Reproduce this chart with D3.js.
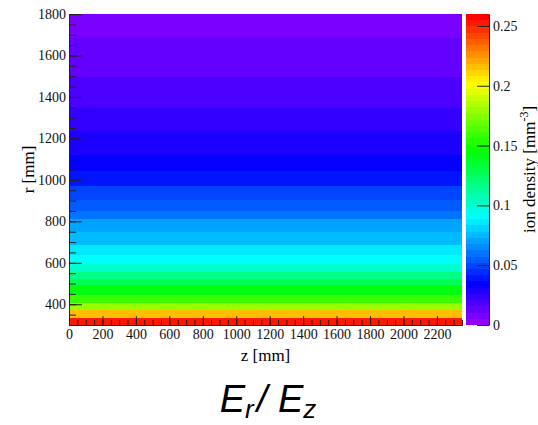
<!DOCTYPE html>
<html>
<head>
<meta charset="utf-8">
<script src="https://cdn.jsdelivr.net/npm/d3@7/dist/d3.min.js"></script>
<style>
	body { margin: 0; background: #fff; }
	svg { display: block; }
	.axis text { font-family: "Liberation Serif", serif; font-size: 14px; fill: #111; }
	.axis line, .axis path { stroke: #222; }
</style>
</head>
<body>
<svg id="chart" width="538" height="425"></svg>
<script>

// r bin edges [mm] of the density bands, bottom to top
var rEdges = [300, 334, 372, 406, 445, 493, 522, 556, 594, 638, 686, 749,
	811, 850, 903, 970, 1043, 1120, 1236, 1347, 1496, 1684, 1800]

// ion density [mm^-3] in each band (same along z)
var density = [0.252, 0.216, 0.179, 0.159, 0.143, 0.127, 0.117, 0.101, 0.091,
	0.086, 0.075, 0.070, 0.060, 0.055, 0.049, 0.039, 0.034, 0.029, 0.023,
	0.018, 0.013, 0.008]

var zRange = [0, 2350]
var rRange = [300, 1800]
var densityRange = [0, 0.26]

var zTicks = [0, 200, 400, 600, 800, 1000, 1200, 1400, 1600, 1800, 2000, 2200]
var rTicks = [400, 600, 800, 1000, 1200, 1400, 1600, 1800]
var densityTicks = [0, 0.05, 0.1, 0.15, 0.2, 0.25]

var nLevels = 50

var svg = d3.select('#chart')

var plot = { left: 69, right: 462, top: 14, bottom: 325 }
var bar = { left: 466, right: 489 }

var zScale = d3.scaleLinear().domain(zRange).range([plot.left, plot.right])
var rScale = d3.scaleLinear().domain(rRange).range([plot.bottom, plot.top])
var dScale = d3.scaleLinear().domain(densityRange).range([plot.bottom, plot.top])

// ROOT "pretty" palette: violet -> red in 50 steps
var palette = d3.range(nLevels).map(function(i) {
	return d3.hsl(280 - (i + 1) * 280 / nLevels, 1, 0.5).toString()
})
var step = (densityRange[1] - densityRange[0]) / nLevels
var colorOf = function(v) {
	var k = Math.floor((v - densityRange[0]) / step)
	return palette[Math.max(0, Math.min(nLevels - 1, k))]
}

// density bands
svg.append('g')
	.selectAll('rect')
	.data(density)
	.join('rect')
	.attr('x', zScale(zRange[0]))
	.attr('width', zScale(zRange[1]) - zScale(zRange[0]))
	.attr('y', (d, i) => rScale(rEdges[i + 1]))
	.attr('height', (d, i) => rScale(rEdges[i]) - rScale(rEdges[i + 1]))
	.attr('fill', (d) => colorOf(d))
	.attr('shape-rendering', 'crispEdges')

// colour bar
svg.append('g')
	.selectAll('rect')
	.data(palette)
	.join('rect')
	.attr('x', bar.left)
	.attr('width', bar.right - bar.left)
	.attr('y', (d, i) => dScale((i + 1) * step))
	.attr('height', (d, i) => dScale(i * step) - dScale((i + 1) * step))
	.attr('fill', (d) => d)
	.attr('shape-rendering', 'crispEdges')

// y axis, minor then major
svg.append('g')
	.attr('class', 'axis')
	.attr('transform', 'translate(' + plot.left + ',0)')
	.call(d3.axisLeft(rScale).tickValues(d3.range(300, 1801, 50)).tickSizeInner(-7).tickSizeOuter(0).tickFormat(''))
svg.append('g')
	.attr('class', 'axis')
	.attr('transform', 'translate(' + plot.left + ',0)')
	.call(d3.axisLeft(rScale).tickValues(rTicks).tickSizeInner(-13).tickSizeOuter(0).tickPadding(3).tickFormat(d3.format('d')))

// x axis
svg.append('g')
	.attr('class', 'axis')
	.attr('transform', 'translate(0,' + plot.bottom + ')')
	.call(d3.axisBottom(zScale).tickValues(d3.range(0, 2351, 50)).tickSizeInner(-5).tickSizeOuter(0).tickFormat(''))
svg.append('g')
	.attr('class', 'axis')
	.attr('transform', 'translate(0,' + plot.bottom + ')')
	.call(d3.axisBottom(zScale).tickValues(zTicks).tickSizeInner(-9).tickSizeOuter(0).tickPadding(4).tickFormat(d3.format('d')))

// colour bar axis
svg.append('g')
	.attr('class', 'axis')
	.attr('transform', 'translate(' + bar.right + ',0)')
	.call(d3.axisRight(dScale).tickValues(densityTicks).tickSizeInner(-12).tickSizeOuter(0).tickPadding(4).tickFormat(d3.format('~g')))

svg.selectAll('.axis .domain').attr('stroke', '#555')

// axis titles
svg.append('text')
	.attr('x', (plot.left + plot.right) / 2)
	.attr('y', 361)
	.attr('text-anchor', 'middle')
	.style('font-family', '"Liberation Serif", serif')
	.style('font-size', '17px')
	.text('z [mm]')

svg.append('text')
	.attr('transform', 'translate(34,' + (plot.top + plot.bottom) / 2 + ') rotate(-90)')
	.attr('text-anchor', 'middle')
	.style('font-family', '"Liberation Serif", serif')
	.style('font-size', '17px')
	.text('r [mm]')

var zTitle = svg.append('text')
	.attr('transform', 'translate(535,' + (plot.top + plot.bottom) / 2 + ') rotate(-90)')
	.attr('text-anchor', 'middle')
	.style('font-family', '"Liberation Serif", serif')
	.style('font-size', '17px')
zTitle.append('tspan').text('ion density [mm')
zTitle.append('tspan').attr('dy', -7).style('font-size', '12px').text('-3')
zTitle.append('tspan').attr('dy', 7).text(']')

// caption
var caption = svg.append('text')
	.attr('x', 268)
	.attr('y', 412)
	.attr('text-anchor', 'middle')
	.style('font-family', '"Liberation Sans", sans-serif')
	.style('font-style', 'italic')
	.style('font-size', '38px')
caption.append('tspan').text('E')
caption.append('tspan').attr('dy', 6).style('font-size', '26px').text('r')
caption.append('tspan').attr('dy', -6).attr('dx', 3).text('/ E')
caption.append('tspan').attr('dy', 6).style('font-size', '26px').text('z')

</script>
</body>
</html>
